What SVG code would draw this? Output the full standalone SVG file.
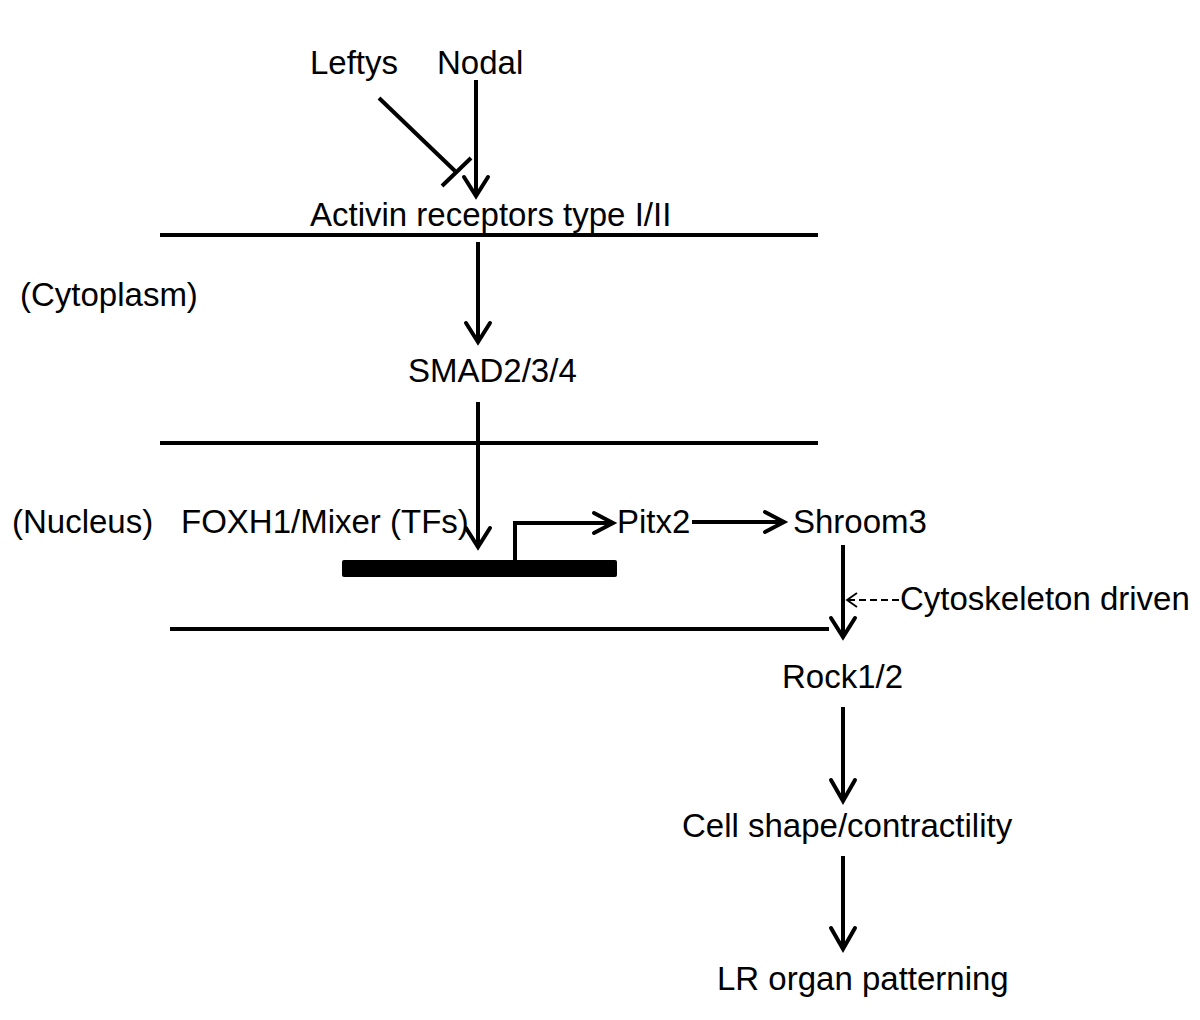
<svg xmlns="http://www.w3.org/2000/svg" width="1200" height="1020" viewBox="0 0 1200 1020">
<style>
text{font-family:"Liberation Sans",Arial,sans-serif;font-size:33px;fill:#000}
.ln{stroke:#000;stroke-width:4;fill:none}
.hd{stroke:#000;stroke-width:4;fill:none;stroke-linecap:round;stroke-linejoin:miter}
.th{stroke:#000;stroke-width:1.8;fill:none}
</style>
<rect width="1200" height="1020" fill="#fff"/>
<g id="membranes">
<line class="ln" x1="160" y1="235" x2="818" y2="235"/>
<line class="ln" x1="160" y1="443" x2="818" y2="443"/>
<line class="ln" x1="170" y1="629" x2="829" y2="629"/>
</g>
<g id="leftys"><text x="310" y="74">Leftys</text></g>
<g id="nodal"><text x="437" y="74">Nodal</text></g>
<g id="activin"><text x="310" y="226">Activin receptors type I/II</text></g>
<g id="cytoplasm"><text x="20" y="306">(Cytoplasm)</text></g>
<g id="smad"><text x="408" y="382">SMAD2/3/4</text></g>
<g id="nucleus"><text x="12" y="533">(Nucleus)</text></g>
<g id="foxh1"><text x="181" y="533">FOXH1/Mixer (TFs)</text></g>
<g id="gene"><rect x="342" y="560" width="275" height="17" rx="2" fill="#000"/></g>
<g id="pitx2"><text x="617" y="533">Pitx2</text></g>
<g id="shroom3"><text x="793" y="533">Shroom3</text></g>
<g id="cytoskeleton"><text x="900" y="610">Cytoskeleton driven</text></g>
<g id="rock"><text x="782" y="688">Rock1/2</text></g>
<g id="cellshape"><text x="682" y="837">Cell shape/contractility</text></g>
<g id="lr"><text x="717" y="990">LR organ patterning</text></g>
<g id="connectors">
<line class="ln" x1="476" y1="80" x2="476" y2="195"/>
<polyline class="hd" points="464,177 476,196 488,177"/>
<line class="ln" x1="379" y1="98" x2="455" y2="171"/>
<line class="ln" x1="442" y1="186" x2="471" y2="158"/>
<line class="ln" x1="478" y1="242" x2="478" y2="341"/>
<polyline class="hd" points="466,323 478,342 490,323"/>
<line class="ln" x1="478" y1="402" x2="478" y2="546"/>
<polyline class="hd" points="466,528 478,547 490,528"/>
<polyline class="ln" points="515,560 515,523 613,523"/>
<polyline class="hd" points="594,513 613,523 594,533"/>
<line class="ln" x1="692" y1="522" x2="784" y2="522"/>
<polyline class="hd" points="765,512 784,522 765,532"/>
<line class="ln" x1="843" y1="545" x2="843" y2="636"/>
<polyline class="hd" points="831,618 843,637 855,618"/>
<line class="th" x1="848" y1="600" x2="900" y2="600" stroke-dasharray="7,4"/>
<polyline class="th" points="857,593 847,600 857,607"/>
<line class="ln" x1="843" y1="707" x2="843" y2="800"/>
<polyline class="hd" points="831,780 843,801 855,780"/>
<line class="ln" x1="843" y1="856" x2="843" y2="948"/>
<polyline class="hd" points="831,928 843,949 855,928"/>
</g>
</svg>
